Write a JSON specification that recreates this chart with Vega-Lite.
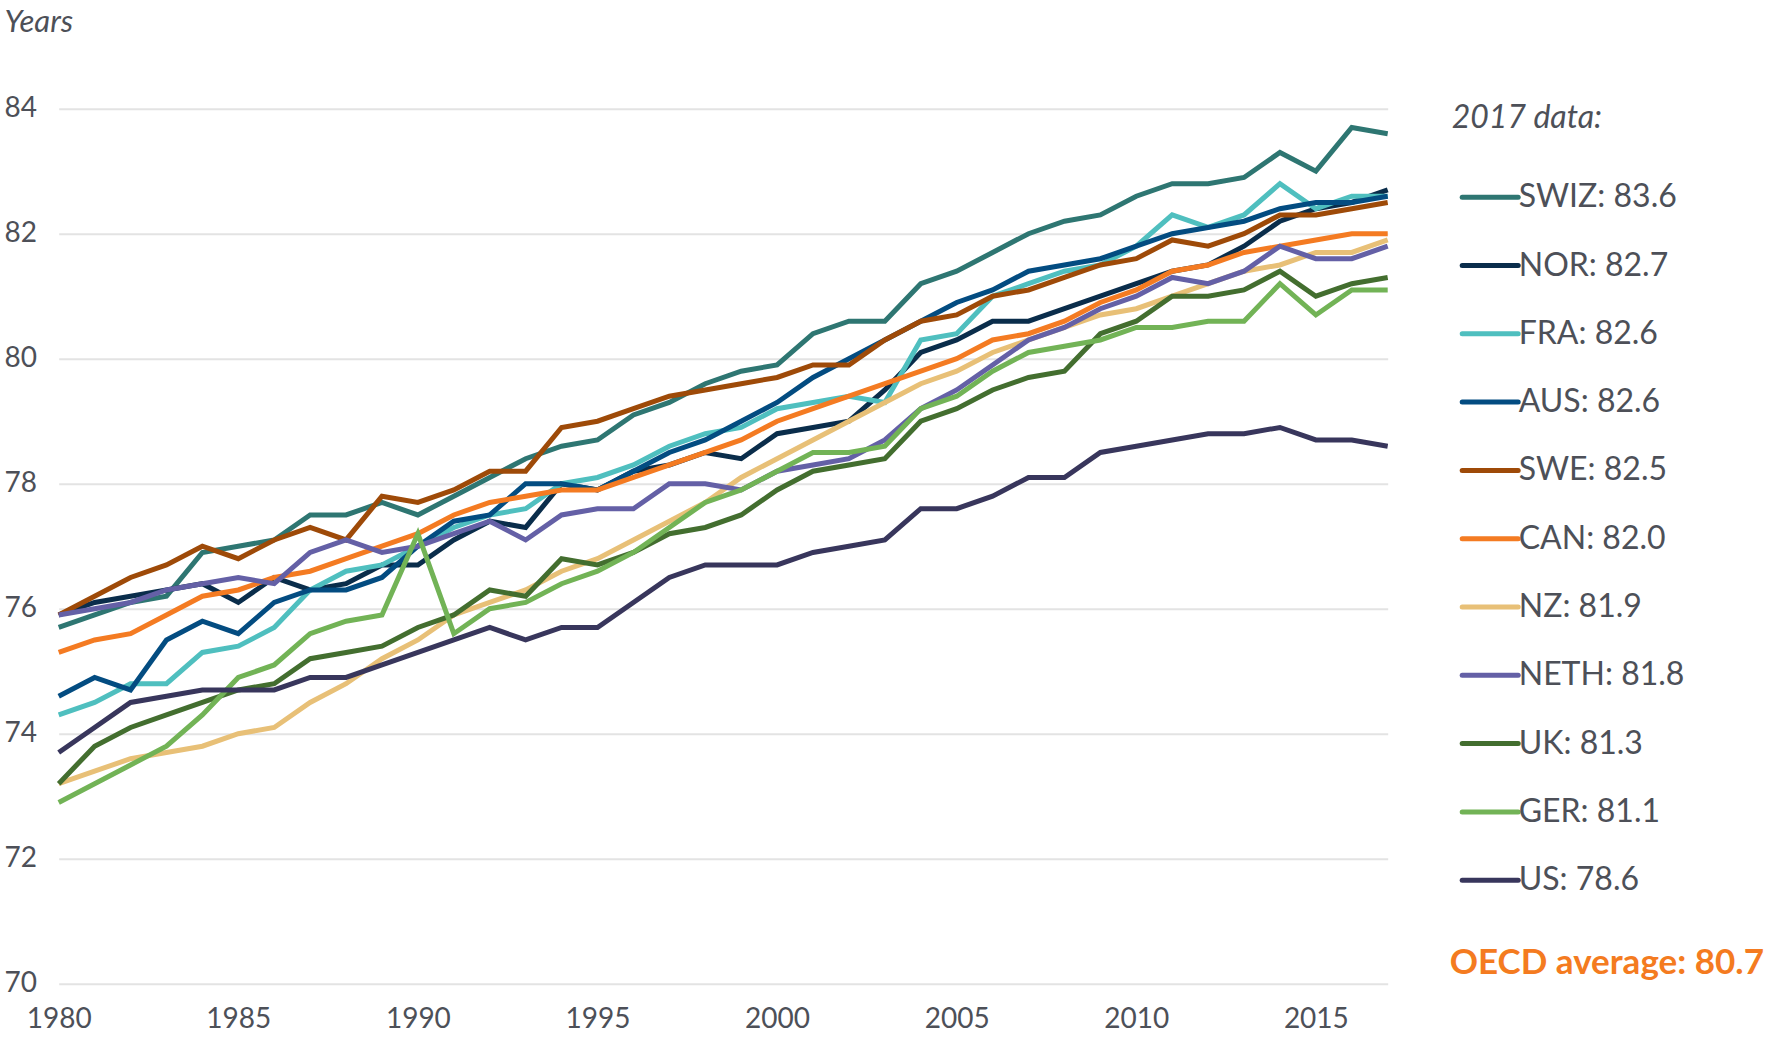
{
  "$schema": "https://vega.github.io/schema/vega-lite/v6.json",
  "autosize": {"type": "none"},
  "width": 1329,
  "height": 875,
  "padding": {"left": 58.7, "top": 108.7, "right": 379.3, "bottom": 53.3},
  "background": "white",
  "config": {
    "view": {"stroke": null},
    "font": "Lato",
    "axis": {"labelFont": "Lato", "labelColor": "#4d5058", "titleColor": "#4d5058", "domain": false, "ticks": false, "tickSize": 0}
  },
  "datasets": {
    "life": [
      {"country":"SWIZ","year":1980,"value":75.7},{"country":"SWIZ","year":1981,"value":75.9},{"country":"SWIZ","year":1982,"value":76.1},{"country":"SWIZ","year":1983,"value":76.2},{"country":"SWIZ","year":1984,"value":76.9},{"country":"SWIZ","year":1985,"value":77.0},{"country":"SWIZ","year":1986,"value":77.1},{"country":"SWIZ","year":1987,"value":77.5},{"country":"SWIZ","year":1988,"value":77.5},{"country":"SWIZ","year":1989,"value":77.7},{"country":"SWIZ","year":1990,"value":77.5},{"country":"SWIZ","year":1991,"value":77.8},{"country":"SWIZ","year":1992,"value":78.1},{"country":"SWIZ","year":1993,"value":78.4},{"country":"SWIZ","year":1994,"value":78.6},{"country":"SWIZ","year":1995,"value":78.7},{"country":"SWIZ","year":1996,"value":79.1},{"country":"SWIZ","year":1997,"value":79.3},{"country":"SWIZ","year":1998,"value":79.6},{"country":"SWIZ","year":1999,"value":79.8},{"country":"SWIZ","year":2000,"value":79.9},{"country":"SWIZ","year":2001,"value":80.4},{"country":"SWIZ","year":2002,"value":80.6},{"country":"SWIZ","year":2003,"value":80.6},{"country":"SWIZ","year":2004,"value":81.2},{"country":"SWIZ","year":2005,"value":81.4},{"country":"SWIZ","year":2006,"value":81.7},{"country":"SWIZ","year":2007,"value":82.0},{"country":"SWIZ","year":2008,"value":82.2},{"country":"SWIZ","year":2009,"value":82.3},{"country":"SWIZ","year":2010,"value":82.6},{"country":"SWIZ","year":2011,"value":82.8},{"country":"SWIZ","year":2012,"value":82.8},{"country":"SWIZ","year":2013,"value":82.9},{"country":"SWIZ","year":2014,"value":83.3},{"country":"SWIZ","year":2015,"value":83.0},{"country":"SWIZ","year":2016,"value":83.7},{"country":"SWIZ","year":2017,"value":83.6},
      {"country":"NOR","year":1980,"value":75.9},{"country":"NOR","year":1981,"value":76.1},{"country":"NOR","year":1982,"value":76.2},{"country":"NOR","year":1983,"value":76.3},{"country":"NOR","year":1984,"value":76.4},{"country":"NOR","year":1985,"value":76.1},{"country":"NOR","year":1986,"value":76.5},{"country":"NOR","year":1987,"value":76.3},{"country":"NOR","year":1988,"value":76.4},{"country":"NOR","year":1989,"value":76.7},{"country":"NOR","year":1990,"value":76.7},{"country":"NOR","year":1991,"value":77.1},{"country":"NOR","year":1992,"value":77.4},{"country":"NOR","year":1993,"value":77.3},{"country":"NOR","year":1994,"value":78.0},{"country":"NOR","year":1995,"value":77.9},{"country":"NOR","year":1996,"value":78.2},{"country":"NOR","year":1997,"value":78.3},{"country":"NOR","year":1998,"value":78.5},{"country":"NOR","year":1999,"value":78.4},{"country":"NOR","year":2000,"value":78.8},{"country":"NOR","year":2001,"value":78.9},{"country":"NOR","year":2002,"value":79.0},{"country":"NOR","year":2003,"value":79.5},{"country":"NOR","year":2004,"value":80.1},{"country":"NOR","year":2005,"value":80.3},{"country":"NOR","year":2006,"value":80.6},{"country":"NOR","year":2007,"value":80.6},{"country":"NOR","year":2008,"value":80.8},{"country":"NOR","year":2009,"value":81.0},{"country":"NOR","year":2010,"value":81.2},{"country":"NOR","year":2011,"value":81.4},{"country":"NOR","year":2012,"value":81.5},{"country":"NOR","year":2013,"value":81.8},{"country":"NOR","year":2014,"value":82.2},{"country":"NOR","year":2015,"value":82.4},{"country":"NOR","year":2016,"value":82.5},{"country":"NOR","year":2017,"value":82.7},
      {"country":"FRA","year":1980,"value":74.3},{"country":"FRA","year":1981,"value":74.5},{"country":"FRA","year":1982,"value":74.8},{"country":"FRA","year":1983,"value":74.8},{"country":"FRA","year":1984,"value":75.3},{"country":"FRA","year":1985,"value":75.4},{"country":"FRA","year":1986,"value":75.7},{"country":"FRA","year":1987,"value":76.3},{"country":"FRA","year":1988,"value":76.6},{"country":"FRA","year":1989,"value":76.7},{"country":"FRA","year":1990,"value":77.0},{"country":"FRA","year":1991,"value":77.3},{"country":"FRA","year":1992,"value":77.5},{"country":"FRA","year":1993,"value":77.6},{"country":"FRA","year":1994,"value":78.0},{"country":"FRA","year":1995,"value":78.1},{"country":"FRA","year":1996,"value":78.3},{"country":"FRA","year":1997,"value":78.6},{"country":"FRA","year":1998,"value":78.8},{"country":"FRA","year":1999,"value":78.9},{"country":"FRA","year":2000,"value":79.2},{"country":"FRA","year":2001,"value":79.3},{"country":"FRA","year":2002,"value":79.4},{"country":"FRA","year":2003,"value":79.3},{"country":"FRA","year":2004,"value":80.3},{"country":"FRA","year":2005,"value":80.4},{"country":"FRA","year":2006,"value":81.0},{"country":"FRA","year":2007,"value":81.2},{"country":"FRA","year":2008,"value":81.4},{"country":"FRA","year":2009,"value":81.5},{"country":"FRA","year":2010,"value":81.8},{"country":"FRA","year":2011,"value":82.3},{"country":"FRA","year":2012,"value":82.1},{"country":"FRA","year":2013,"value":82.3},{"country":"FRA","year":2014,"value":82.8},{"country":"FRA","year":2015,"value":82.4},{"country":"FRA","year":2016,"value":82.6},{"country":"FRA","year":2017,"value":82.6},
      {"country":"AUS","year":1980,"value":74.6},{"country":"AUS","year":1981,"value":74.9},{"country":"AUS","year":1982,"value":74.7},{"country":"AUS","year":1983,"value":75.5},{"country":"AUS","year":1984,"value":75.8},{"country":"AUS","year":1985,"value":75.6},{"country":"AUS","year":1986,"value":76.1},{"country":"AUS","year":1987,"value":76.3},{"country":"AUS","year":1988,"value":76.3},{"country":"AUS","year":1989,"value":76.5},{"country":"AUS","year":1990,"value":77.0},{"country":"AUS","year":1991,"value":77.4},{"country":"AUS","year":1992,"value":77.5},{"country":"AUS","year":1993,"value":78.0},{"country":"AUS","year":1994,"value":78.0},{"country":"AUS","year":1995,"value":77.9},{"country":"AUS","year":1996,"value":78.2},{"country":"AUS","year":1997,"value":78.5},{"country":"AUS","year":1998,"value":78.7},{"country":"AUS","year":1999,"value":79.0},{"country":"AUS","year":2000,"value":79.3},{"country":"AUS","year":2001,"value":79.7},{"country":"AUS","year":2002,"value":80.0},{"country":"AUS","year":2003,"value":80.3},{"country":"AUS","year":2004,"value":80.6},{"country":"AUS","year":2005,"value":80.9},{"country":"AUS","year":2006,"value":81.1},{"country":"AUS","year":2007,"value":81.4},{"country":"AUS","year":2008,"value":81.5},{"country":"AUS","year":2009,"value":81.6},{"country":"AUS","year":2010,"value":81.8},{"country":"AUS","year":2011,"value":82.0},{"country":"AUS","year":2012,"value":82.1},{"country":"AUS","year":2013,"value":82.2},{"country":"AUS","year":2014,"value":82.4},{"country":"AUS","year":2015,"value":82.5},{"country":"AUS","year":2016,"value":82.5},{"country":"AUS","year":2017,"value":82.6},
      {"country":"SWE","year":1980,"value":75.9},{"country":"SWE","year":1981,"value":76.2},{"country":"SWE","year":1982,"value":76.5},{"country":"SWE","year":1983,"value":76.7},{"country":"SWE","year":1984,"value":77.0},{"country":"SWE","year":1985,"value":76.8},{"country":"SWE","year":1986,"value":77.1},{"country":"SWE","year":1987,"value":77.3},{"country":"SWE","year":1988,"value":77.1},{"country":"SWE","year":1989,"value":77.8},{"country":"SWE","year":1990,"value":77.7},{"country":"SWE","year":1991,"value":77.9},{"country":"SWE","year":1992,"value":78.2},{"country":"SWE","year":1993,"value":78.2},{"country":"SWE","year":1994,"value":78.9},{"country":"SWE","year":1995,"value":79.0},{"country":"SWE","year":1996,"value":79.2},{"country":"SWE","year":1997,"value":79.4},{"country":"SWE","year":1998,"value":79.5},{"country":"SWE","year":1999,"value":79.6},{"country":"SWE","year":2000,"value":79.7},{"country":"SWE","year":2001,"value":79.9},{"country":"SWE","year":2002,"value":79.9},{"country":"SWE","year":2003,"value":80.3},{"country":"SWE","year":2004,"value":80.6},{"country":"SWE","year":2005,"value":80.7},{"country":"SWE","year":2006,"value":81.0},{"country":"SWE","year":2007,"value":81.1},{"country":"SWE","year":2008,"value":81.3},{"country":"SWE","year":2009,"value":81.5},{"country":"SWE","year":2010,"value":81.6},{"country":"SWE","year":2011,"value":81.9},{"country":"SWE","year":2012,"value":81.8},{"country":"SWE","year":2013,"value":82.0},{"country":"SWE","year":2014,"value":82.3},{"country":"SWE","year":2015,"value":82.3},{"country":"SWE","year":2016,"value":82.4},{"country":"SWE","year":2017,"value":82.5},
      {"country":"CAN","year":1980,"value":75.3},{"country":"CAN","year":1981,"value":75.5},{"country":"CAN","year":1982,"value":75.6},{"country":"CAN","year":1983,"value":75.9},{"country":"CAN","year":1984,"value":76.2},{"country":"CAN","year":1985,"value":76.3},{"country":"CAN","year":1986,"value":76.5},{"country":"CAN","year":1987,"value":76.6},{"country":"CAN","year":1988,"value":76.8},{"country":"CAN","year":1989,"value":77.0},{"country":"CAN","year":1990,"value":77.2},{"country":"CAN","year":1991,"value":77.5},{"country":"CAN","year":1992,"value":77.7},{"country":"CAN","year":1993,"value":77.8},{"country":"CAN","year":1994,"value":77.9},{"country":"CAN","year":1995,"value":77.9},{"country":"CAN","year":1996,"value":78.1},{"country":"CAN","year":1997,"value":78.3},{"country":"CAN","year":1998,"value":78.5},{"country":"CAN","year":1999,"value":78.7},{"country":"CAN","year":2000,"value":79.0},{"country":"CAN","year":2001,"value":79.2},{"country":"CAN","year":2002,"value":79.4},{"country":"CAN","year":2003,"value":79.6},{"country":"CAN","year":2004,"value":79.8},{"country":"CAN","year":2005,"value":80.0},{"country":"CAN","year":2006,"value":80.3},{"country":"CAN","year":2007,"value":80.4},{"country":"CAN","year":2008,"value":80.6},{"country":"CAN","year":2009,"value":80.9},{"country":"CAN","year":2010,"value":81.1},{"country":"CAN","year":2011,"value":81.4},{"country":"CAN","year":2012,"value":81.5},{"country":"CAN","year":2013,"value":81.7},{"country":"CAN","year":2014,"value":81.8},{"country":"CAN","year":2015,"value":81.9},{"country":"CAN","year":2016,"value":82.0},{"country":"CAN","year":2017,"value":82.0},
      {"country":"NZ","year":1980,"value":73.2},{"country":"NZ","year":1981,"value":73.4},{"country":"NZ","year":1982,"value":73.6},{"country":"NZ","year":1983,"value":73.7},{"country":"NZ","year":1984,"value":73.8},{"country":"NZ","year":1985,"value":74.0},{"country":"NZ","year":1986,"value":74.1},{"country":"NZ","year":1987,"value":74.5},{"country":"NZ","year":1988,"value":74.8},{"country":"NZ","year":1989,"value":75.2},{"country":"NZ","year":1990,"value":75.5},{"country":"NZ","year":1991,"value":75.9},{"country":"NZ","year":1992,"value":76.1},{"country":"NZ","year":1993,"value":76.3},{"country":"NZ","year":1994,"value":76.6},{"country":"NZ","year":1995,"value":76.8},{"country":"NZ","year":1996,"value":77.1},{"country":"NZ","year":1997,"value":77.4},{"country":"NZ","year":1998,"value":77.7},{"country":"NZ","year":1999,"value":78.1},{"country":"NZ","year":2000,"value":78.4},{"country":"NZ","year":2001,"value":78.7},{"country":"NZ","year":2002,"value":79.0},{"country":"NZ","year":2003,"value":79.3},{"country":"NZ","year":2004,"value":79.6},{"country":"NZ","year":2005,"value":79.8},{"country":"NZ","year":2006,"value":80.1},{"country":"NZ","year":2007,"value":80.3},{"country":"NZ","year":2008,"value":80.5},{"country":"NZ","year":2009,"value":80.7},{"country":"NZ","year":2010,"value":80.8},{"country":"NZ","year":2011,"value":81.0},{"country":"NZ","year":2012,"value":81.2},{"country":"NZ","year":2013,"value":81.4},{"country":"NZ","year":2014,"value":81.5},{"country":"NZ","year":2015,"value":81.7},{"country":"NZ","year":2016,"value":81.7},{"country":"NZ","year":2017,"value":81.9},
      {"country":"NETH","year":1980,"value":75.9},{"country":"NETH","year":1981,"value":76.0},{"country":"NETH","year":1982,"value":76.1},{"country":"NETH","year":1983,"value":76.3},{"country":"NETH","year":1984,"value":76.4},{"country":"NETH","year":1985,"value":76.5},{"country":"NETH","year":1986,"value":76.4},{"country":"NETH","year":1987,"value":76.9},{"country":"NETH","year":1988,"value":77.1},{"country":"NETH","year":1989,"value":76.9},{"country":"NETH","year":1990,"value":77.0},{"country":"NETH","year":1991,"value":77.2},{"country":"NETH","year":1992,"value":77.4},{"country":"NETH","year":1993,"value":77.1},{"country":"NETH","year":1994,"value":77.5},{"country":"NETH","year":1995,"value":77.6},{"country":"NETH","year":1996,"value":77.6},{"country":"NETH","year":1997,"value":78.0},{"country":"NETH","year":1998,"value":78.0},{"country":"NETH","year":1999,"value":77.9},{"country":"NETH","year":2000,"value":78.2},{"country":"NETH","year":2001,"value":78.3},{"country":"NETH","year":2002,"value":78.4},{"country":"NETH","year":2003,"value":78.7},{"country":"NETH","year":2004,"value":79.2},{"country":"NETH","year":2005,"value":79.5},{"country":"NETH","year":2006,"value":79.9},{"country":"NETH","year":2007,"value":80.3},{"country":"NETH","year":2008,"value":80.5},{"country":"NETH","year":2009,"value":80.8},{"country":"NETH","year":2010,"value":81.0},{"country":"NETH","year":2011,"value":81.3},{"country":"NETH","year":2012,"value":81.2},{"country":"NETH","year":2013,"value":81.4},{"country":"NETH","year":2014,"value":81.8},{"country":"NETH","year":2015,"value":81.6},{"country":"NETH","year":2016,"value":81.6},{"country":"NETH","year":2017,"value":81.8},
      {"country":"UK","year":1980,"value":73.2},{"country":"UK","year":1981,"value":73.8},{"country":"UK","year":1982,"value":74.1},{"country":"UK","year":1983,"value":74.3},{"country":"UK","year":1984,"value":74.5},{"country":"UK","year":1985,"value":74.7},{"country":"UK","year":1986,"value":74.8},{"country":"UK","year":1987,"value":75.2},{"country":"UK","year":1988,"value":75.3},{"country":"UK","year":1989,"value":75.4},{"country":"UK","year":1990,"value":75.7},{"country":"UK","year":1991,"value":75.9},{"country":"UK","year":1992,"value":76.3},{"country":"UK","year":1993,"value":76.2},{"country":"UK","year":1994,"value":76.8},{"country":"UK","year":1995,"value":76.7},{"country":"UK","year":1996,"value":76.9},{"country":"UK","year":1997,"value":77.2},{"country":"UK","year":1998,"value":77.3},{"country":"UK","year":1999,"value":77.5},{"country":"UK","year":2000,"value":77.9},{"country":"UK","year":2001,"value":78.2},{"country":"UK","year":2002,"value":78.3},{"country":"UK","year":2003,"value":78.4},{"country":"UK","year":2004,"value":79.0},{"country":"UK","year":2005,"value":79.2},{"country":"UK","year":2006,"value":79.5},{"country":"UK","year":2007,"value":79.7},{"country":"UK","year":2008,"value":79.8},{"country":"UK","year":2009,"value":80.4},{"country":"UK","year":2010,"value":80.6},{"country":"UK","year":2011,"value":81.0},{"country":"UK","year":2012,"value":81.0},{"country":"UK","year":2013,"value":81.1},{"country":"UK","year":2014,"value":81.4},{"country":"UK","year":2015,"value":81.0},{"country":"UK","year":2016,"value":81.2},{"country":"UK","year":2017,"value":81.3},
      {"country":"GER","year":1980,"value":72.9},{"country":"GER","year":1981,"value":73.2},{"country":"GER","year":1982,"value":73.5},{"country":"GER","year":1983,"value":73.8},{"country":"GER","year":1984,"value":74.3},{"country":"GER","year":1985,"value":74.9},{"country":"GER","year":1986,"value":75.1},{"country":"GER","year":1987,"value":75.6},{"country":"GER","year":1988,"value":75.8},{"country":"GER","year":1989,"value":75.9},{"country":"GER","year":1990,"value":77.2},{"country":"GER","year":1991,"value":75.6},{"country":"GER","year":1992,"value":76.0},{"country":"GER","year":1993,"value":76.1},{"country":"GER","year":1994,"value":76.4},{"country":"GER","year":1995,"value":76.6},{"country":"GER","year":1996,"value":76.9},{"country":"GER","year":1997,"value":77.3},{"country":"GER","year":1998,"value":77.7},{"country":"GER","year":1999,"value":77.9},{"country":"GER","year":2000,"value":78.2},{"country":"GER","year":2001,"value":78.5},{"country":"GER","year":2002,"value":78.5},{"country":"GER","year":2003,"value":78.6},{"country":"GER","year":2004,"value":79.2},{"country":"GER","year":2005,"value":79.4},{"country":"GER","year":2006,"value":79.8},{"country":"GER","year":2007,"value":80.1},{"country":"GER","year":2008,"value":80.2},{"country":"GER","year":2009,"value":80.3},{"country":"GER","year":2010,"value":80.5},{"country":"GER","year":2011,"value":80.5},{"country":"GER","year":2012,"value":80.6},{"country":"GER","year":2013,"value":80.6},{"country":"GER","year":2014,"value":81.2},{"country":"GER","year":2015,"value":80.7},{"country":"GER","year":2016,"value":81.1},{"country":"GER","year":2017,"value":81.1},
      {"country":"US","year":1980,"value":73.7},{"country":"US","year":1981,"value":74.1},{"country":"US","year":1982,"value":74.5},{"country":"US","year":1983,"value":74.6},{"country":"US","year":1984,"value":74.7},{"country":"US","year":1985,"value":74.7},{"country":"US","year":1986,"value":74.7},{"country":"US","year":1987,"value":74.9},{"country":"US","year":1988,"value":74.9},{"country":"US","year":1989,"value":75.1},{"country":"US","year":1990,"value":75.3},{"country":"US","year":1991,"value":75.5},{"country":"US","year":1992,"value":75.7},{"country":"US","year":1993,"value":75.5},{"country":"US","year":1994,"value":75.7},{"country":"US","year":1995,"value":75.7},{"country":"US","year":1996,"value":76.1},{"country":"US","year":1997,"value":76.5},{"country":"US","year":1998,"value":76.7},{"country":"US","year":1999,"value":76.7},{"country":"US","year":2000,"value":76.7},{"country":"US","year":2001,"value":76.9},{"country":"US","year":2002,"value":77.0},{"country":"US","year":2003,"value":77.1},{"country":"US","year":2004,"value":77.6},{"country":"US","year":2005,"value":77.6},{"country":"US","year":2006,"value":77.8},{"country":"US","year":2007,"value":78.1},{"country":"US","year":2008,"value":78.1},{"country":"US","year":2009,"value":78.5},{"country":"US","year":2010,"value":78.6},{"country":"US","year":2011,"value":78.7},{"country":"US","year":2012,"value":78.8},{"country":"US","year":2013,"value":78.8},{"country":"US","year":2014,"value":78.9},{"country":"US","year":2015,"value":78.7},{"country":"US","year":2016,"value":78.7},{"country":"US","year":2017,"value":78.6}
    ],
    "note": [{"label": "OECD average: 80.7"}]
  },
  "layer": [
    {
      "data": {"name": "life"},
      "mark": {"type": "line", "strokeWidth": 5, "strokeJoin": "miter"},
      "encoding": {
        "x": {
          "field": "year", "type": "quantitative",
          "scale": {"domain": [1980, 2017], "nice": false, "zero": false},
          "axis": {
            "title": null, "values": [1980, 1985, 1990, 1995, 2000, 2005, 2010, 2015], "format": "d",
            "grid": false, "labelFlush": false, "labelFontSize": 28, "labelPadding": 22
          }
        },
        "y": {
          "field": "value", "type": "quantitative",
          "scale": {"domain": [70, 84], "nice": false, "zero": false},
          "axis": {
            "title": "Years", "titleAngle": 0, "titleAlign": "left", "titleBaseline": "alphabetic",
            "titleX": -54.7, "titleY": -77, "titleFontSize": 31, "titleFontStyle": "italic", "titleFontWeight": "normal", "titleFont": "Lato",
            "values": [70, 72, 74, 76, 78, 80, 82, 84], "format": "d", "labelFontSize": 28, "labelAlign": "left", "labelPadding": 54.7,
            "grid": true, "gridColor": "#e3e3e3", "gridWidth": 2
          }
        },
        "color": {
          "field": "country", "type": "nominal",
          "scale": {
            "domain": ["SWIZ", "NOR", "FRA", "AUS", "SWE", "CAN", "NZ", "NETH", "UK", "GER", "US"],
            "range": ["#2E7672", "#0A2D4B", "#4FBFBF", "#034C81", "#9E4A08", "#F47B22", "#E8C077", "#6460A6", "#436E2F", "#72B356", "#38365C"]
          },
          "legend": {
            "orient": "none", "legendX": 1393, "legendY": -6, "padding": 0,
            "title": "2017 data:", "titleFont": "Lato", "titleFontStyle": "italic", "titleFontWeight": "normal",
            "titleFontSize": 32, "titleColor": "#4d5058", "titlePadding": 32,
            "labelFont": "Lato", "labelFontSize": 32, "labelColor": "#4d5058", "labelOffset": -2,
            "symbolType": "stroke", "symbolSize": 3136, "symbolStrokeWidth": 5, "symbolOffset": 8,
            "rowPadding": 21.3, "labelLimit": 400,
            "labelExpr": "{'SWIZ': 'SWIZ: 83.6', 'NOR': 'NOR: 82.7', 'FRA': 'FRA: 82.6', 'AUS': 'AUS: 82.6', 'SWE': 'SWE: 82.5', 'CAN': 'CAN: 82.0', 'NZ': 'NZ: 81.9', 'NETH': 'NETH: 81.8', 'UK': 'UK: 81.3', 'GER': 'GER: 81.1', 'US': 'US: 78.6'}[datum.label]",
            "encode": {"symbols": {"update": {"strokeCap": {"value": "round"}}}}
          }
        }
      }
    },
    {
      "data": {"name": "note"},
      "mark": {"type": "text", "align": "left", "baseline": "middle", "dx": 62, "font": "Lato", "fontWeight": "bold", "fontSize": 35, "color": "#F47B20"},
      "encoding": {
        "x": {"datum": 2017, "type": "quantitative"},
        "y": {"datum": 70.33, "type": "quantitative"},
        "text": {"field": "label"}
      }
    }
  ]
}
